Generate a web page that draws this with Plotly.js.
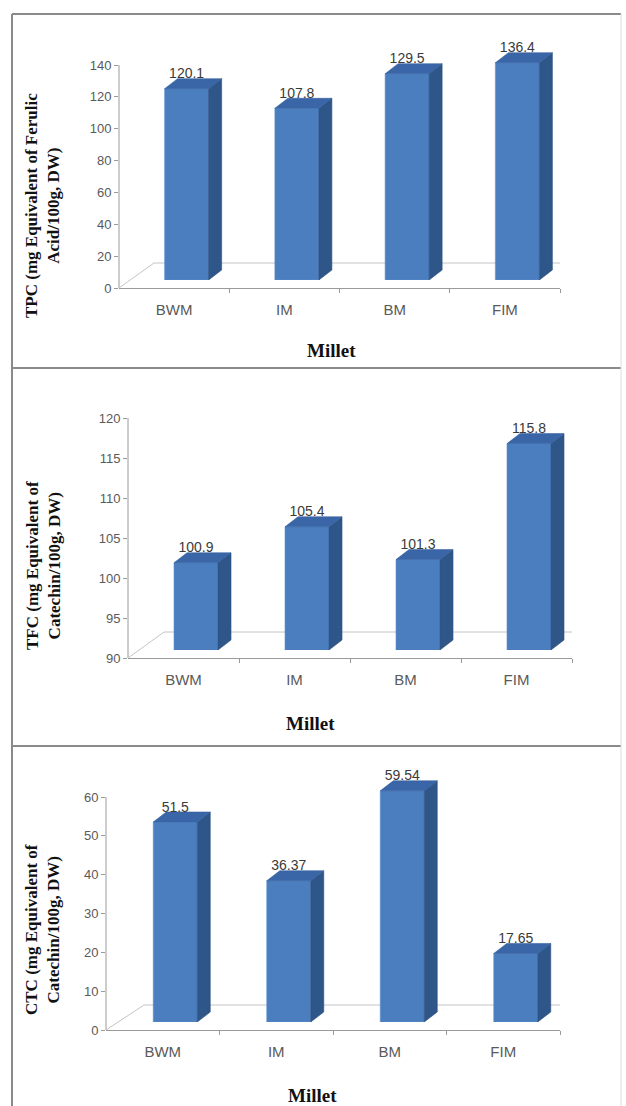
<!DOCTYPE html>
<html>
<head>
<meta charset="utf-8">
<script src="https://cdn.plot.ly/plotly-3.0.1.min.js"></script>
<style>
  html, body { margin: 0; padding: 0; background: #ffffff; }
  #chart { width: 626px; height: 1106px; }
</style>
</head>
<body>
<div id="chart"></div>
<script>
// ---- data ----
const categories = ['BWM', 'IM', 'BM', 'FIM'];
const tpcValues = [120.1, 107.8, 129.5, 136.4];
const tfcValues = [100.9, 105.4, 101.3, 115.8];
const ctcValues = [51.5, 36.37, 59.54, 17.65];
const tpcLabels = ['120.1', '107.8', '129.5', '136.4'];
const tfcLabels = ['100.9', '105.4', '101.3', '115.8'];
const ctcLabels = ['51.5', '36.37', '59.54', '17.65'];
const tpcTicks = [0, 20, 40, 60, 80, 100, 120, 140];
const tfcTicks = [90, 95, 100, 105, 110, 115, 120];
const ctcTicks = [0, 10, 20, 30, 40, 50, 60];
const tpcTitle = 'TPC (mg Equivalent of Ferulic<br>Acid/100g, DW)';
const tfcTitle = 'TFC (mg Equivalent of<br>Catechin/100g, DW)';
const ctcTitle = 'CTC (mg Equivalent of<br>Catechin/100g, DW)';
const xTitle = 'Millet';

// ---- layout geometry (pixels) ----
const W = 626, H = 1106;
const fx = px => px / W;
const fy = px => 1 - px / H;
const geo = [
  {xL: 119, xR: 560, yTop: 65,  yBot: 288,  fdx: 35, fdy: 25, tx: 42, ty: 206, mx: 331, my: 350},
  {xL: 128, xR: 572, yTop: 418, yBot: 658,  fdx: 36, fdy: 26, tx: 43, ty: 566, mx: 310, my: 723},
  {xL: 106, xR: 560, yTop: 797, yBot: 1030, fdx: 38, fdy: 25, tx: 42, ty: 930, mx: 312, my: 1095}
];
const panels = [
  {vals: tpcValues, labels: tpcLabels, ticks: tpcTicks, title: tpcTitle},
  {vals: tfcValues, labels: tfcLabels, ticks: tfcTicks, title: tfcTitle},
  {vals: ctcValues, labels: ctcLabels, ticks: ctcTicks, title: ctcTitle}
];

const FRONT = '#4a7ebf', SIDE = '#2f5688', TOP = '#3a66a8';
const AXC = '#9a9a9a';
const tickFont = {family: 'Liberation Sans, Arial, sans-serif', size: 13, color: '#5a5a5a'};
const catFont = {family: 'Liberation Sans, Arial, sans-serif', size: 15, color: '#5a5a5a'};
const serif = 'Liberation Serif, Times New Roman, serif';

const traces = [];
const layout = {
  width: W, height: H,
  margin: {l: 0, r: 0, t: 0, b: 0},
  paper_bgcolor: '#ffffff', plot_bgcolor: 'rgba(0,0,0,0)',
  showlegend: false, hovermode: false,
  shapes: [], annotations: []
};

panels.forEach((p, k) => {
  const g = geo[k];
  const n = categories.length;
  const idx = categories.map((_, i) => i);
  const cat = (g.xR - g.xL) / n;
  const ymin = p.ticks[0], ymax = p.ticks[p.ticks.length - 1];
  const s = (g.yBot - g.yTop) / (ymax - ymin);
  const ext = 45;
  const ymaxExt = ymax + ext / s;
  const LIFT = 8; // px: bars stand on a plane slightly behind the front axis line
  const sfx = k === 0 ? '' : String(k + 1);
  const xa = 'x' + sfx, ya = 'y' + sfx, yo = 'y' + (k + 4);

  layout['xaxis' + sfx] = {
    domain: [fx(g.xL), fx(g.xR)], range: [-0.5, n - 0.5], anchor: ya,
    tickmode: 'array', tickvals: idx, ticktext: categories, ticks: '',
    showline: true, linecolor: AXC, linewidth: 1, showgrid: false, zeroline: false,
    tickfont: catFont, ticklabelstandoff: 8, fixedrange: true,
    minor: {tickmode: 'array', tickvals: idx.map(i => i + 0.5), ticks: 'outside',
            ticklen: 4, tickcolor: AXC, tickwidth: 1, showgrid: false}
  };
  layout['yaxis' + sfx] = {
    domain: [fy(g.yBot), fy(g.yTop - ext)], range: [ymin, ymaxExt], anchor: xa,
    tickmode: 'array', tickvals: p.ticks, ticks: 'outside', ticklen: 4,
    tickcolor: AXC, showline: false, showgrid: false, zeroline: false,
    tickfont: tickFont, fixedrange: true
  };
  // bar axis: same scale, plane lifted by LIFT px
  layout['yaxis' + (k + 4)] = {
    anchor: xa, domain: [fy(g.yBot - LIFT), fy(g.yTop - ext - LIFT)],
    range: [ymin, ymaxExt], visible: false, fixedrange: true
  };

  // y axis line (only up to the top tick)
  layout.shapes.push({type: 'line', xref: 'paper', yref: ya, x0: fx(g.xL), x1: fx(g.xL),
    y0: ymin, y1: ymax, line: {color: AXC, width: 1}, layer: 'below'});
  // floor
  const fdxU = g.fdx / cat, fdyU = g.fdy / s;
  layout.shapes.push({type: 'path', xref: xa, yref: ya, layer: 'below',
    path: `M ${n - 0.5} ${ymin} L ${n - 0.5 + fdxU} ${ymin + fdyU} L ${-0.5 + fdxU} ${ymin + fdyU} L -0.5 ${ymin}`,
    line: {color: '#c4c4c4', width: 1}});

  const off = -9.5 / cat, w = 44 / cat, sdx = 13 / cat, sdy = 10 / s;

  traces.push({type: 'bar', x: idx, y: p.vals, xaxis: xa, yaxis: yo,
    width: w, offset: off, marker: {color: FRONT, line: {color: '#5d90cf', width: 0.6}}});

  const sx = [], sy = [], tx = [], ty = [];
  p.vals.forEach((v, i) => {
    const xl = i + off, xr = i + off + w;
    sx.push(xr, xr + sdx, xr + sdx, xr, xr, null);
    sy.push(ymin, ymin + sdy, v + sdy, v, ymin, null);
    tx.push(xl, xr, xr + sdx, xl + sdx, xl, null);
    ty.push(v, v, v + sdy, v + sdy, v, null);
  });
  traces.push({type: 'scatter', mode: 'lines', x: sx, y: sy, xaxis: xa, yaxis: yo,
    fill: 'toself', fillcolor: SIDE, line: {color: '#2b4f7f', width: 0.6}});
  traces.push({type: 'scatter', mode: 'lines', x: tx, y: ty, xaxis: xa, yaxis: yo,
    fill: 'toself', fillcolor: TOP, line: {color: '#3561a0', width: 0.6}});
  traces.push({type: 'scatter', mode: 'text', xaxis: xa, yaxis: yo,
    x: idx.map(i => i + off + w / 2), y: p.vals.map(v => v + sdy + 4 / s),
    text: p.labels, textposition: 'middle center', cliponaxis: false,
    textfont: {family: 'Liberation Sans, Arial, sans-serif', size: 14, color: '#3a3a3a'}});

  layout.annotations.push({xref: 'paper', yref: 'paper', x: fx(g.tx), y: fy(g.ty),
    text: '<b>' + p.title + '</b>', textangle: -90, showarrow: false,
    xanchor: 'center', yanchor: 'middle',
    font: {family: serif, size: 17, color: '#111111'}});
  layout.annotations.push({xref: 'paper', yref: 'paper', x: fx(g.mx), y: fy(g.my),
    text: '<b>' + xTitle + '</b>', showarrow: false, xanchor: 'center', yanchor: 'middle',
    font: {family: serif, size: 19, color: '#111111'}});
});

// panel borders
const BC = '#8a8a8a';
[14, 368, 746].forEach(y => layout.shapes.push({type: 'line', xref: 'paper', yref: 'paper',
  x0: fx(12), x1: fx(621), y0: fy(y), y1: fy(y), line: {color: BC, width: 2}}));
layout.shapes.push({type: 'line', xref: 'paper', yref: 'paper', x0: fx(12), x1: fx(12),
  y0: fy(14), y1: 0, line: {color: BC, width: 2}});
layout.shapes.push({type: 'line', xref: 'paper', yref: 'paper', x0: fx(621), x1: fx(621),
  y0: fy(14), y1: 0, line: {color: '#dcdcdc', width: 1}});

Plotly.newPlot('chart', traces, layout, {staticPlot: true, displayModeBar: false});
</script>
</body>
</html>
